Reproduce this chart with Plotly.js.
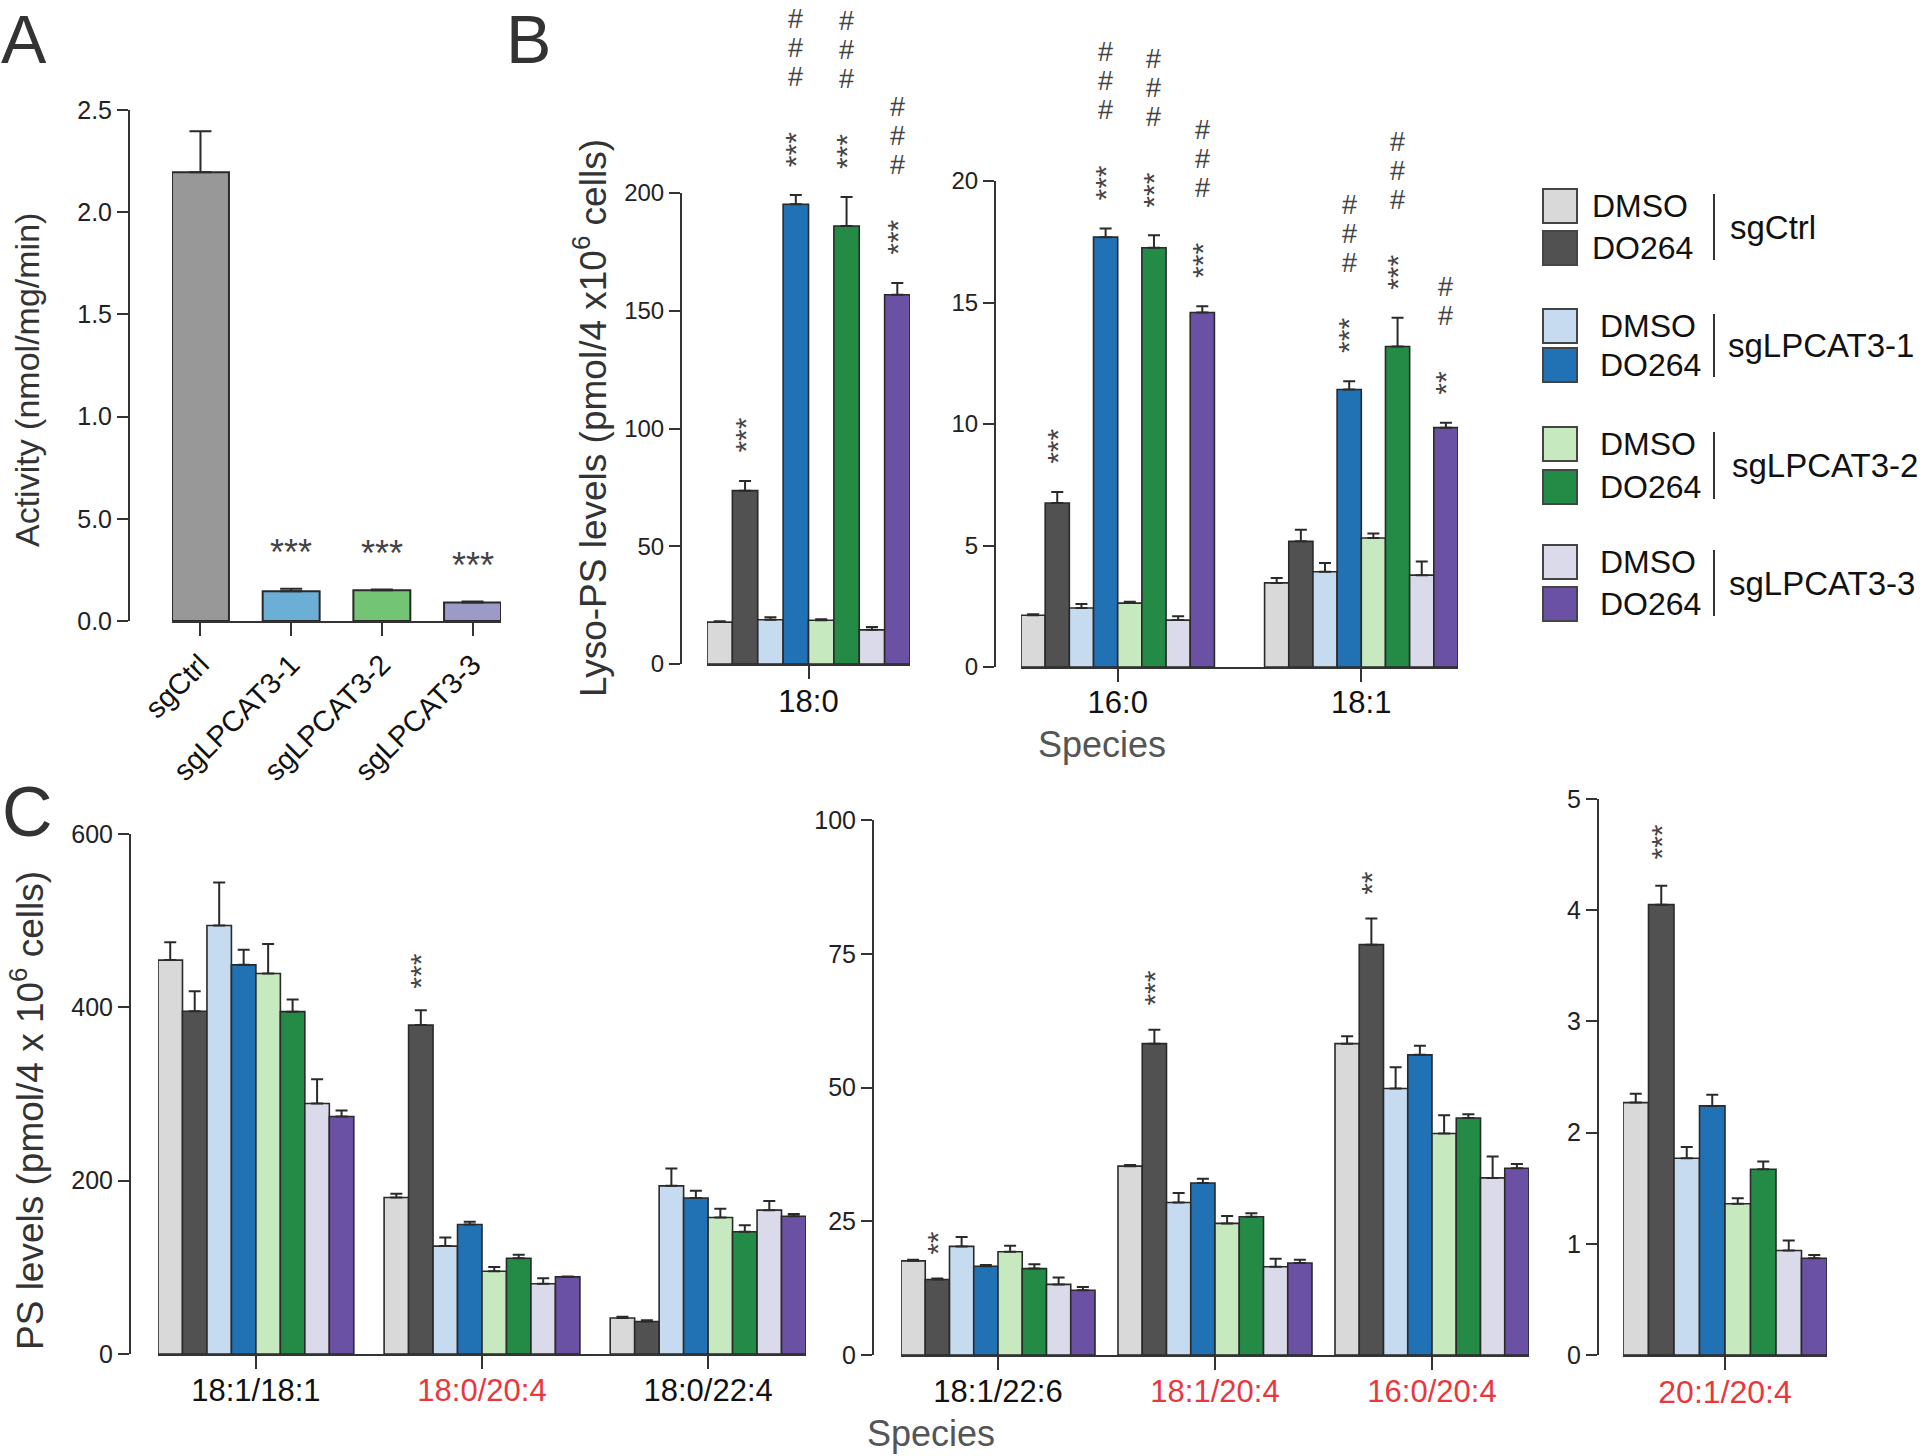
<!DOCTYPE html>
<html><head><meta charset="utf-8">
<script src="https://cdn.plot.ly/plotly-3.0.1.min.js"></script>
<style>html,body{margin:0;padding:0;background:#fff}#chart{width:1920px;height:1456px}</style>
</head><body><div id="chart"></div>
<script>
// ---------- DATA ----------
// Panel A
const activityGroups = ['sgCtrl', 'sgLPCAT3-1', 'sgLPCAT3-2', 'sgLPCAT3-3'];
const activityMean = [2.196, 0.146, 0.151, 0.090];
const activitySem = [0.20, 0.012, 0.003, 0.005];
const activitySig = ['', '***', '***', '***'];
const activityTickVals = [0, 0.5, 1.0, 1.5, 2.0, 2.5];
const activityTickText = ['0.0', '5.0', '1.0', '1.5', '2.0', '2.5'];
const activityColors = ['#989898', '#6baed6', '#74c476', '#9e9ac8'];

// Treatments (bars in every group of B and C)
const treatments = ['DMSO', 'DO264', 'DMSO', 'DO264', 'DMSO', 'DO264', 'DMSO', 'DO264'];
const cellLines = ['sgCtrl', 'sgCtrl', 'sgLPCAT3-1', 'sgLPCAT3-1', 'sgLPCAT3-2', 'sgLPCAT3-2', 'sgLPCAT3-3', 'sgLPCAT3-3'];
const treatmentColors = ['#d9d9d9', '#515151', '#c6dbef', '#2171b5', '#c7e9c0', '#238b45', '#dadaeb', '#6a51a3'];

// Panel B: Lyso-PS
const lyso180Mean = [17.8, 73.6, 18.8, 195.2, 18.6, 186.0, 14.5, 156.8];
const lyso180Sem  = [0.4, 4.1, 1.0, 4.0, 0.4, 12.3, 1.2, 5.0];
const lyso180Stars = ['', '***', '', '***', '', '***', '', '***'];
const lyso180Hash  = ['', '', '', '###', '', '###', '', '###'];
const lyso160Mean = [2.13, 6.75, 2.43, 17.69, 2.63, 17.25, 1.93, 14.59];
const lyso160Sem  = [0.04, 0.45, 0.16, 0.36, 0.06, 0.52, 0.16, 0.26];
const lyso160Stars = ['', '***', '', '***', '', '***', '', '***'];
const lyso160Hash  = ['', '', '', '###', '', '###', '', '###'];
const lyso181Mean = [3.46, 5.17, 3.92, 11.42, 5.31, 13.19, 3.78, 9.85];
const lyso181Sem  = [0.20, 0.48, 0.36, 0.34, 0.18, 1.18, 0.56, 0.20];
const lyso181Stars = ['', '', '', '***', '', '***', '', '**'];
const lyso181Hash  = ['', '', '', '###', '', '###', '', '##'];
const lysoTicksLeft = [0, 50, 100, 150, 200];
const lysoTicksRight = [0, 5, 10, 15, 20];

// Panel C: PS
const ps181_181Mean = [454.5, 395.5, 494.5, 449.0, 439.0, 395.0, 289.0, 274.0];
const ps181_181Sem  = [20.5, 23.0, 49.5, 17.5, 34.0, 14.0, 28.0, 7.0];
const ps181_181Stars = ['', '', '', '', '', '', '', ''];
const ps180_204Mean = [180.5, 379.5, 124.5, 149.5, 95.5, 110.5, 81.0, 89.0];
const ps180_204Sem  = [4.5, 17.0, 10.0, 3.0, 5.0, 4.0, 6.5, 0.5];
const ps180_204Stars = ['', '***', '', '', '', '', '', ''];
const ps180_224Mean = [41.5, 37.5, 194.0, 180.0, 157.5, 141.0, 166.0, 159.0];
const ps180_224Sem  = [1.5, 1.5, 20.0, 8.5, 10.0, 7.5, 10.5, 2.5];
const ps180_224Stars = ['', '', '', '', '', '', '', ''];
const ps181_226Mean = [17.6, 14.1, 20.3, 16.6, 19.3, 16.15, 13.2, 12.1];
const ps181_226Sem  = [0.2, 0.2, 1.75, 0.2, 1.1, 0.8, 1.3, 0.6];
const ps181_226Stars = ['', '**', '', '', '', '', '', ''];
const ps181_204Mean = [35.3, 58.2, 28.5, 32.15, 24.6, 25.85, 16.5, 17.2];
const ps181_204Sem  = [0.2, 2.6, 1.8, 0.8, 1.4, 0.65, 1.5, 0.6];
const ps181_204Stars = ['', '***', '', '', '', '', '', ''];
const ps160_204Mean = [58.2, 76.7, 49.8, 56.1, 41.4, 44.3, 33.1, 34.9];
const ps160_204Sem  = [1.4, 4.9, 4.0, 1.7, 3.4, 0.7, 4.0, 0.8];
const ps160_204Stars = ['', '**', '', '', '', '', '', ''];
const ps201_204Mean = [2.27, 4.05, 1.77, 2.24, 1.36, 1.67, 0.94, 0.87];
const ps201_204Sem  = [0.08, 0.17, 0.10, 0.10, 0.05, 0.07, 0.09, 0.03];
const ps201_204Stars = ['', '***', '', '', '', '', '', ''];
const psTicks1 = [0, 200, 400, 600];
const psTicks2 = [0, 25, 50, 75, 100];
const psTicks3 = [0, 1, 2, 3, 4, 5];
const highlightSpecies = ['18:0/20:4', '18:1/20:4', '16:0/20:4', '20:1/20:4'];

// ---------- LAYOUT HELPERS ----------
const W = 1920, H = 1456;
const px = v => v / W;
const py = v => 1 - v / H;
const FONT = 'Liberation Sans, Arial, Helvetica, sans-serif';
const AXC = '#333';
const RED = '#e8383d';

const traces = [];
const annotations = [];
const shapes = [];
const layout = {
  width: W, height: H, margin: {l: 0, r: 0, t: 0, b: 0},
  paper_bgcolor: '#fff', plot_bgcolor: 'rgba(0,0,0,0)',
  barmode: 'overlay', showlegend: false, font: {family: FONT, color: '#222'}
};

function setAxes(n, g) {
  const xs = n === 1 ? 'xaxis' : 'xaxis' + n;
  const ys = n === 1 ? 'yaxis' : 'yaxis' + n;
  const yid = n === 1 ? 'y' : 'y' + n;
  layout[xs] = {
    domain: [px(g.x0), px(g.x1)], range: g.xr, anchor: yid, type: 'linear',
    showline: true, linecolor: AXC, linewidth: 2, ticks: 'outside', ticklen: g.xtl || 13,
    tickwidth: 2, tickcolor: AXC, tickvals: g.xtv, ticktext: g.xtt,
    ticklabelstandoff: g.xso || 0,
    tickfont: {family: FONT, size: g.xfs, color: '#111'}, tickangle: g.xta || 0,
    showgrid: false, zeroline: false, fixedrange: true
  };
  layout[ys] = {
    domain: [py(g.yb), py(g.yt)], range: g.yr, anchor: 'free', position: px(g.ypos),
    showline: true, linecolor: AXC, linewidth: 2, ticks: 'outside', ticklen: 11,
    tickwidth: 2, tickcolor: AXC, tickvals: g.ytv, ticktext: g.ytt || g.ytv.map(String),
    tickfont: {family: FONT, size: g.yfs, color: '#222'},
    showgrid: false, zeroline: false, fixedrange: true
  };
  return {xa: n === 1 ? 'x' : 'x' + n, ya: yid};
}

function speciesLabel(s) {
  return highlightSpecies.includes(s) ? '<span style="color:' + RED + '">' + s + '</span>' : s;
}

// grouped bar subplot (B, C)
function groupedPanel(n, g, species, means, sems, stars, hashes, sigFont, starShift) {
  const ax = setAxes(n, Object.assign({xtv: species.map((_, i) => i), xtt: species.map(speciesLabel)}, g));
  const nb = treatments.length;
  const bw = g.gw / nb;
  for (let k = 0; k < nb; k++) {
    traces.push({
      type: 'bar', xaxis: ax.xa, yaxis: ax.ya,
      x: species.map((_, i) => i), y: means.map(m => m[k]),
      offset: -g.gw / 2 + k * bw, width: bw,
      name: treatments[k] + ' ' + cellLines[k],
      marker: {color: treatmentColors[k], line: {color: '#2a2a2a', width: 1.6}},
      error_y: {type: 'data', symmetric: false, array: sems.map(s => s[k]),
        arrayminus: species.map(() => 0), color: '#2a2a2a', thickness: 2, width: 6},
      hoverinfo: 'skip'
    });
    species.forEach((s, i) => {
      const xc = i - g.gw / 2 + (k + 0.5) * bw;
      const ytop = means[i][k] + sems[i][k];
      const st = stars[i][k];
      if (st) {
        annotations.push({xref: ax.xa, yref: ax.ya, x: xc, y: ytop, text: st, showarrow: false,
          textangle: -90, xanchor: 'center', yanchor: 'bottom', yshift: starShift,
          font: {family: FONT, size: sigFont, color: '#444'}});
      }
      const hs = hashes ? hashes[i][k] : '';
      if (hs) {
        const starLen = st ? st.length * 0.39 * sigFont + 4 : 0;
        const base = starShift + starLen + 36;
        hs.split('').forEach((h, j) => {
          annotations.push({xref: ax.xa, yref: ax.ya, x: xc, y: ytop, text: h, showarrow: false,
            xanchor: 'center', yanchor: 'bottom', yshift: base + j * 29,
            font: {family: FONT, size: 27, color: '#444'}});
        });
      }
    });
  }
}

// ---------- PANEL A ----------
(function () {
  const g = {x0: 172, x1: 501, xr: [-0.314, 3.314], yb: 621, yt: 110, yr: [0, 2.5], ypos: 129,
    xtv: activityGroups.map((_, i) => i), xtt: activityGroups, xfs: 29, xta: -45, xtl: 13,
    ytv: activityTickVals, ytt: activityTickText, yfs: 25};
  const ax = setAxes(1, g);
  traces.push({
    type: 'bar', xaxis: ax.xa, yaxis: ax.ya, x: activityGroups.map((_, i) => i), y: activityMean,
    width: 0.628, marker: {color: activityColors, line: {color: '#2a2a2a', width: 2}},
    error_y: {type: 'data', symmetric: false, array: activitySem, arrayminus: activitySem.map(() => 0),
      color: '#2a2a2a', thickness: 2, width: 11},
    hoverinfo: 'skip'
  });
  activitySig.forEach((s, i) => {
    if (s) annotations.push({xref: 'x', yref: 'y', x: i, y: activityMean[i] + activitySem[i], text: s,
      showarrow: false, yanchor: 'bottom', yshift: 14, font: {family: FONT, size: 36, color: '#444'}});
  });
})();

// ---------- PANEL B ----------
groupedPanel(2, {x0: 707, x1: 910, xr: [-0.4, 0.4], gw: 0.8, yb: 664, yt: 193, yr: [0, 200], ypos: 681,
  xfs: 31, xso: -4, ytv: lysoTicksLeft, yfs: 24},
  ['18:0'], [lyso180Mean], [lyso180Sem], [lyso180Stars], [lyso180Hash], 30, 26);
groupedPanel(3, {x0: 1021, x1: 1458, xr: [-0.397, 1.397], gw: 0.794, yb: 667, yt: 181, yr: [0, 20], ypos: 995,
  xfs: 31, xso: -6, ytv: lysoTicksRight, yfs: 24},
  ['16:0', '18:1'], [lyso160Mean, lyso181Mean], [lyso160Sem, lyso181Sem],
  [lyso160Stars, lyso181Stars], [lyso160Hash, lyso181Hash], 30, 26);

// ---------- PANEL C ----------
groupedPanel(4, {x0: 158, x1: 806, xr: [-0.433, 2.433], gw: 0.866, yb: 1354, yt: 834, yr: [0, 600], ypos: 130,
  xfs: 31, xso: -5, ytv: psTicks1, yfs: 25},
  ['18:1/18:1', '18:0/20:4', '18:0/22:4'], [ps181_181Mean, ps180_204Mean, ps180_224Mean],
  [ps181_181Sem, ps180_204Sem, ps180_224Sem], [ps181_181Stars, ps180_204Stars, ps180_224Stars], null, 30, 20);
groupedPanel(5, {x0: 901, x1: 1529, xr: [-0.447, 2.447], gw: 0.894, yb: 1355, yt: 820, yr: [0, 100], ypos: 873,
  xfs: 31, xso: -5, ytv: psTicks2, yfs: 25},
  ['18:1/22:6', '18:1/20:4', '16:0/20:4'], [ps181_226Mean, ps181_204Mean, ps160_204Mean],
  [ps181_226Sem, ps181_204Sem, ps160_204Sem], [ps181_226Stars, ps181_204Stars, ps160_204Stars], null, 30, 22);
groupedPanel(6, {x0: 1623, x1: 1827, xr: [-0.4, 0.4], gw: 0.8, yb: 1355, yt: 799, yr: [0, 5], ypos: 1598,
  xfs: 32, xso: -5, ytv: psTicks3, yfs: 25},
  ['20:1/20:4'], [ps201_204Mean], [ps201_204Sem], [ps201_204Stars], null, 30, 24);

// ---------- TEXT: panel letters, titles ----------
function paperText(text, x, y, size, opts) {
  annotations.push(Object.assign({xref: 'paper', yref: 'paper', x: px(x), y: py(y), text: text,
    showarrow: false, xanchor: 'center', yanchor: 'middle',
    font: {family: FONT, size: size, color: '#333'}}, opts || {}));
}
paperText('A', 0, 0, 68, {xanchor: 'left', yanchor: 'top', borderpad: 0});
paperText('B', 505, 0, 68, {xanchor: 'left', yanchor: 'top', borderpad: 0});
paperText('C', 0, 812, 70, {xanchor: 'left'});
paperText('Activity (nmol/mg/min)', 27, 380, 34, {textangle: -90});
paperText('Lyso-PS levels (pmol/4 x10<sup>6</sup> cells)', 591, 418, 37, {textangle: -90});
paperText('PS levels (pmol/4 x 10<sup>6</sup> cells)', 27, 1111, 37, {textangle: -90});
paperText('Species', 1102, 745, 36, {font: {family: FONT, size: 36, color: '#555'}});
paperText('Species', 931, 1433, 36, {font: {family: FONT, size: 36, color: '#555'}});

// ---------- LEGEND ----------
const legendRowY = [206, 248, 326, 365, 444, 487, 562, 604];
const legendTextX = [1590, 1590, 1598, 1598, 1598, 1598, 1598, 1598];
const legendGroupLabels = ['sgCtrl', 'sgLPCAT3-1', 'sgLPCAT3-2', 'sgLPCAT3-3'];
const legendGroupX = [1728, 1726, 1730, 1727];
treatments.forEach((t, k) => {
  const yc = legendRowY[k];
  shapes.push({type: 'rect', xref: 'paper', yref: 'paper', x0: px(1543), x1: px(1577),
    y0: py(yc + 17), y1: py(yc - 17), fillcolor: treatmentColors[k], line: {color: '#444', width: 2}});
  paperText(t, legendTextX[k], yc, 32, {xanchor: 'left', font: {family: FONT, size: 32, color: '#111'}});
});
legendGroupLabels.forEach((lab, j) => {
  const ya = legendRowY[2 * j], yb = legendRowY[2 * j + 1];
  shapes.push({type: 'line', xref: 'paper', yref: 'paper', x0: px(1714), x1: px(1714),
    y0: py(ya - 12), y1: py(yb + 12), line: {color: '#333', width: 2}});
  paperText(lab, legendGroupX[j], (ya + yb) / 2, 33, {xanchor: 'left', font: {family: FONT, size: 33, color: '#111'}});
});

layout.annotations = annotations;
layout.shapes = shapes;
Plotly.newPlot('chart', traces, layout, {staticPlot: true, displayModeBar: false});
</script>
</body></html>
